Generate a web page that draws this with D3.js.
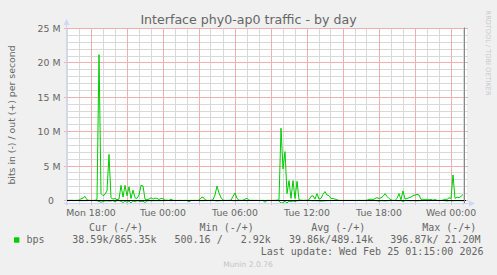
<!DOCTYPE html>
<html>
<head>
<meta charset="utf-8">
<script src="https://cdn.jsdelivr.net/npm/d3@7"></script>
<style>
html, body { margin: 0; padding: 0; background: #f0f0f0; }
svg { display: block; }
</style>
</head>
<body>
<svg id="chart" width="497" height="275"></svg>
<script>
// 10 minute samples from Mon 15:55 to Wed 01:15 (UTC used as wall clock)
const startTime = Date.UTC(2026, 1, 23, 15, 55);
const endTime = Date.UTC(2026, 1, 25, 1, 15);
const stepMin = 10;

// out (+), Mbit/s
const outMbps = [
  0.02,0.02,0.03,0.02,0.02,0.03,0.05,0.25,0.35,0.6,
  0.1,0.02,0.02,0.03,0.02,0.15,21.2,1.0,0.7,0.9,
  1.4,6.7,0.4,0.2,0.3,0.1,0.2,2.2,0.5,2.2,
  0.7,2.0,0.3,1.5,0.4,0.3,0.8,2.2,2.1,0.2,
  0.1,0.2,0.4,0.2,0.35,0.3,0.15,0.3,0.25,0.05,
  0.05,0.02,0.2,0.02,0.02,0.01,0.02,0.02,0.01,0.02,
  0.02,0.01,0.02,0.02,0.03,0.02,0.05,0.4,0.5,0.1,
  0.02,0.02,0.03,0.1,0.8,2.1,1.1,0.4,0.05,0.02,
  0.02,0.03,0.05,0.6,1.1,0.3,0.05,0.02,0.05,0.2,
  0.3,0.05,0.02,0.03,0.02,0.02,0.01,0.02,0.02,0.01,
  0.02,0.03,0.02,0.02,0.03,0.05,0.1,10.5,4.6,7.1,
  1.0,2.9,0.3,2.9,0.3,2.8,0.1,0.05,0.02,0.03,
  0.05,0.1,0.6,0.7,0.2,1.0,0.2,0.3,0.9,1.3,
  0.8,0.7,0.3,0.3,0.2,0.1,0.02,0.02,0.01,0.02,
  0.02,0.01,0.02,0.02,0.01,0.02,0.03,0.02,0.02,0.03,
  0.05,0.15,0.2,0.1,0.3,0.4,0.3,0.4,0.6,1.0,
  0.6,0.3,0.1,0.02,0.02,0.3,1.0,0.1,1.4,0.2,
  0.3,0.4,0.5,0.7,0.8,0.9,0.8,0.15,0.2,0.1,
  0.2,0.1,0.15,0.05,0.15,0.02,0.02,0.02,0.05,0.2,
  0.15,0.4,0.3,3.7,0.3,0.5,0.4,0.6,0.87,null
];

// in (-), kbit/s
const inKbps = [
  10,12,8,10,15,10,12,20,30,25,
  15,10,8,10,12,40,120,250,150,60,
  40,80,60,30,200,20,30,120,300,80,
  250,90,350,60,200,40,80,150,90,300,
  60,30,50,40,30,20,40,30,20,15,
  10,8,20,10,8,10,12,8,10,10,
  8,200,10,12,8,10,15,30,40,15,
  10,8,10,12,30,60,40,20,10,8,
  10,8,10,30,40,20,10,8,10,15,
  20,10,8,10,8,10,8,10,12,250,
  10,8,10,12,10,15,40,397,300,120,
  350,90,200,60,150,40,20,10,8,10,
  10,12,30,40,20,50,30,100,60,40,
  30,20,15,10,8,10,8,10,8,10,
  8,10,8,10,8,10,8,10,12,10,
  12,15,20,10,20,25,100,30,40,60,
  40,20,10,8,10,20,40,10,150,20,
  20,30,40,30,40,50,40,15,20,10,
  15,10,12,8,10,8,10,8,12,20,
  80,30,20,60,20,30,25,40,38.59,null
];

const yTickValues = [0, 5e6, 10e6, 15e6, 20e6, 25e6];
const yTickLabels = ["0", "5 M", "10 M", "15 M", "20 M", "25 M"];

const legendHeads = ["Cur (-/+)", "Min (-/+)", "Avg (-/+)", "Max (-/+)"];
const legendValues = ["38.59k/865.35k", "500.16 /   2.92k", "39.86k/489.14k", "396.87k/ 21.20M"];
const lastUpdate = "Last update: Wed Feb 25 01:15:00 2026";

const sans = "'DejaVu Sans', sans-serif";
const mono = "'DejaVu Sans Mono', monospace";
const fontColor = "#666666";
const axisColor = "#CFD6F8";
const lineColor = "#00cc00";
const minorGrid = "#d9d9d9";
const majorGrid = "#eeb0b0";

const svg = d3.select("#chart");
const pL = 66, pR = 466, pT = 28.5, pB = 203.6;

const x = d3.scaleUtc().domain([startTime, endTime]).range([pL, pR]);
const y = d3.scaleLinear().domain([-0.45e6, 25e6]).range([pB, pT]);
const crisp = v => Math.floor(v) + 0.5;

svg.append("rect").attr("width", 497).attr("height", 275).attr("fill", "#f0f0f0");
svg.append("rect")
  .attr("x", pL).attr("y", pT - 0.5)
  .attr("width", pR - pL + 1).attr("height", pB - pT + 0.5)
  .attr("fill", "#ffffff");

// grid
const minorY = d3.range(1e6, 25e6, 1e6).filter(v => v % 5e6 !== 0);
const hours = d3.utcHour.every(1).range(new Date(startTime), new Date(endTime));
const minorX = hours.filter(d => d.getUTCHours() % 3 !== 0);
const majorX = hours.filter(d => d.getUTCHours() % 3 === 0);
const gTop = Math.floor(pT), gBot = Math.floor(pB) + 2;

const grid = svg.append("g").attr("stroke-width", 1).attr("shape-rendering", "crispEdges");
grid.selectAll("line.hmin").data(minorY).enter().append("line")
  .attr("class", "hmin")
  .attr("x1", pL).attr("x2", pR + 2)
  .attr("y1", d => crisp(y(d))).attr("y2", d => crisp(y(d)))
  .attr("stroke", minorGrid);
grid.selectAll("line.vmin").data(minorX).enter().append("line")
  .attr("class", "vmin")
  .attr("x1", d => crisp(x(d))).attr("x2", d => crisp(x(d)))
  .attr("y1", gTop).attr("y2", gBot)
  .attr("stroke", minorGrid);
grid.selectAll("line.hmaj").data(yTickValues).enter().append("line")
  .attr("class", "hmaj")
  .attr("x1", pL - 2).attr("x2", pR + 2)
  .attr("y1", d => crisp(y(d))).attr("y2", d => crisp(y(d)))
  .attr("stroke", majorGrid);
grid.selectAll("line.vmaj").data(majorX).enter().append("line")
  .attr("class", "vmaj")
  .attr("x1", d => crisp(x(d))).attr("x2", d => crisp(x(d)))
  .attr("y1", gTop).attr("y2", gBot)
  .attr("stroke", majorGrid);

// series
const tAt = i => startTime + (i + 0.5) * stepMin * 60000;
const line = d3.line()
  .defined(d => d.v != null)
  .x(d => x(d.t))
  .y(d => y(d.v));

const outData = outMbps.map((v, i) => ({ t: tAt(i), v: v == null ? null : v * 1e6 }));
const inData = inKbps.map((v, i) => ({ t: tAt(i), v: v == null ? null : -v * 1e3 }));

svg.append("path").datum(inData)
  .attr("d", line).attr("fill", "none")
  .attr("stroke", lineColor).attr("stroke-width", 1);
svg.append("path").datum(outData)
  .attr("d", line).attr("fill", "none")
  .attr("stroke", lineColor).attr("stroke-width", 1);

// zero line
svg.append("line")
  .attr("x1", pL).attr("x2", pR)
  .attr("y1", crisp(y(0))).attr("y2", crisp(y(0)))
  .attr("stroke", "#000").attr("stroke-width", 1);

// right edge line
svg.append("line")
  .attr("x1", 464.5).attr("x2", 464.5)
  .attr("y1", pT - 1).attr("y2", pB)
  .attr("stroke", "#888").attr("stroke-width", 1);

// axes with arrows
const axY = crisp(pB);
svg.append("line")
  .attr("x1", pL + 0.5).attr("x2", pL + 0.5)
  .attr("y1", pB + 2).attr("y2", 24)
  .attr("stroke", axisColor);
svg.append("path")
  .attr("d", `M${pL - 2.5},25 L${pL + 3.5},25 L${pL + 0.5},19 Z`)
  .attr("fill", axisColor);
svg.append("line")
  .attr("x1", pL - 2).attr("x2", pR + 4)
  .attr("y1", axY).attr("y2", axY)
  .attr("stroke", axisColor);
svg.append("path")
  .attr("d", `M${pR + 3},${axY - 3} L${pR + 3},${axY + 3} L${pR + 9},${axY} Z`)
  .attr("fill", axisColor);

// y tick labels
svg.selectAll(".ylab").data(yTickValues).enter().append("text")
  .attr("class", "ylab")
  .attr("x", (d, i) => i === 0 ? 54 : 60.5)
  .attr("y", d => y(d) + 3.4)
  .attr("text-anchor", "end")
  .attr("font-family", sans).attr("font-size", "9.33px")
  .attr("fill", fontColor)
  .text((d, i) => yTickLabels[i]);

// x tick labels
const fmt = d3.utcFormat("%a %H:%M");
const labelTimes = hours.filter(d => d.getUTCHours() % 6 === 0);
svg.selectAll(".xlab").data(labelTimes).enter().append("text")
  .attr("class", "xlab")
  .attr("x", d => x(d))
  .attr("y", 216)
  .attr("text-anchor", "middle")
  .attr("font-family", sans).attr("font-size", "9.33px")
  .attr("fill", fontColor)
  .text(d => fmt(d));

// title
svg.append("text")
  .attr("x", 248.5).attr("y", 24)
  .attr("text-anchor", "middle")
  .attr("font-family", sans).attr("font-size", "12.6px")
  .attr("fill", fontColor)
  .text("Interface phy0-ap0 traffic - by day");

// y axis label
svg.append("text")
  .attr("transform", "translate(14.5,115) rotate(-90)")
  .attr("text-anchor", "middle")
  .attr("font-family", sans).attr("font-size", "9.33px")
  .attr("fill", fontColor)
  .text("bits in (-) / out (+) per second");

// watermark
svg.append("text")
  .attr("transform", "translate(485.5,53) rotate(90)")
  .attr("text-anchor", "middle")
  .attr("font-family", sans).attr("font-size", "6.6px")
  .attr("fill", "#c8c8c8")
  .text("RRDTOOL / TOBI OETIKER");

// legend
const headX = [116, 226.7, 338.3, 449.3];
const valX = [72.3, 174.5, 289, 390.3];
svg.selectAll(".lhead").data(legendHeads).enter().append("text")
  .attr("class", "lhead")
  .attr("x", (d, i) => headX[i]).attr("y", 231)
  .attr("text-anchor", "middle")
  .attr("font-family", mono).attr("font-size", "10px")
  .attr("fill", fontColor)
  .text(d => d);

svg.append("rect")
  .attr("x", 14).attr("y", 237.3).attr("width", 5.4).attr("height", 5.4)
  .attr("fill", lineColor);
svg.append("text")
  .attr("x", 26.4).attr("y", 243)
  .attr("font-family", mono).attr("font-size", "10px")
  .attr("fill", fontColor)
  .text("bps");
svg.selectAll(".lval").data(legendValues).enter().append("text")
  .attr("class", "lval")
  .attr("x", (d, i) => valX[i]).attr("y", 243)
  .attr("font-family", mono).attr("font-size", "10px")
  .attr("fill", fontColor)
  .attr("xml:space", "preserve")
  .style("white-space", "pre")
  .text(d => d);

svg.append("text")
  .attr("x", 483.5).attr("y", 255)
  .attr("text-anchor", "end")
  .attr("font-family", mono).attr("font-size", "10px")
  .attr("fill", fontColor)
  .text(lastUpdate);

svg.append("text")
  .attr("x", 248).attr("y", 266.5)
  .attr("text-anchor", "middle")
  .attr("font-family", sans).attr("font-size", "7.6px")
  .attr("fill", "#c4c4c4")
  .text("Munin 2.0.76");
</script>
</body>
</html>
